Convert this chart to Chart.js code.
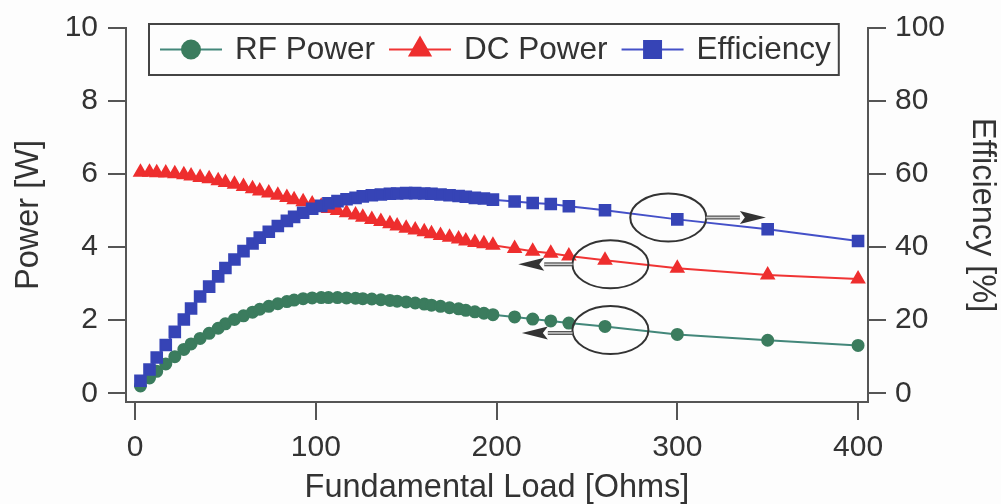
<!DOCTYPE html>
<html>
<head>
<meta charset="utf-8">
<title>Power and efficiency vs fundamental load</title>
<script src="https://cdn.jsdelivr.net/npm/chart.js@4"></script>
<style>
  html, body { margin: 0; padding: 0; background: #fdfdfd; }
  #wrap { width: 1001px; height: 504px; }
</style>
</head>
<body>
<div id="wrap"><canvas id="chartCanvas" width="1001" height="504"></canvas></div>
<script>
// load sweep [Ohms]: fine steps up to ~200, coarser after
const loadOhms = [3, 8, 12, 17, 22, 27, 31, 36, 41, 46, 50, 55, 60, 65, 69, 74, 79, 84, 88, 93,
    98, 103, 107, 112, 117, 122, 126, 131, 136, 141, 145, 150, 155, 160, 164, 169, 174, 179, 183, 188,
    193, 198, 210, 220, 230, 240, 260, 300, 350, 400];

// [W]
const rfPower = [0.2, 0.42, 0.6, 0.8, 1.0, 1.2, 1.35, 1.5, 1.64, 1.78, 1.9, 2.02, 2.12, 2.22, 2.3, 2.38, 2.45, 2.51, 2.55, 2.59,
    2.61, 2.62, 2.62, 2.62, 2.61, 2.6, 2.59, 2.58, 2.56, 2.54, 2.52, 2.5, 2.47, 2.44, 2.41, 2.38, 2.34, 2.31, 2.27, 2.23,
    2.19, 2.15, 2.09, 2.03, 1.98, 1.92, 1.83, 1.61, 1.45, 1.31];

const dcPower = [6.05, 6.05, 6.04, 6.03, 6.01, 5.98, 5.95, 5.91, 5.87, 5.82, 5.77, 5.72, 5.66, 5.6, 5.54, 5.48, 5.42, 5.36, 5.3, 5.24,
    5.18, 5.12, 5.06, 5.0, 4.94, 4.88, 4.82, 4.76, 4.7, 4.64, 4.58, 4.52, 4.47, 4.42, 4.37, 4.32, 4.27, 4.22, 4.17, 4.13,
    4.09, 4.05, 3.96, 3.89, 3.83, 3.76, 3.64, 3.42, 3.24, 3.13];

// [%]
const efficiency = [3.4, 6.5, 9.8, 13.2, 16.8, 20.2, 23.2, 26.5, 29.2, 32.0, 34.3, 36.6, 38.9, 41.0, 42.6, 44.2, 45.8, 47.2, 48.3, 49.4,
    50.5, 51.3, 52.0, 52.6, 53.1, 53.5, 53.9, 54.2, 54.4, 54.6, 54.7, 54.8, 54.8, 54.7, 54.6, 54.4, 54.2, 54.0, 53.8, 53.5,
    53.3, 53.0, 52.5, 52.1, 51.8, 51.2, 50.1, 47.6, 44.9, 41.7];

const xTicks = [0, 100, 200, 300, 400];
const powerTicks = [0, 2, 4, 6, 8, 10];
const effTicks = [0, 20, 40, 60, 80, 100];

// circled groups with an arrow pointing at the axis they belong to
const callouts = [
    { axis: "y1", x: 295, y: 48.1, arrowY: 48.1, from: 316, to: 349 },
    { axis: "y", x: 263, y: 3.53, arrowY: 3.53, from: 242, to: 212 },
    { axis: "y", x: 263, y: 1.73, arrowY: 1.65, from: 242, to: 214 }
];

const FONT = "'Liberation Sans', Arial, sans-serif";
const INK = "#333";
const AXIS = "#555";

const xy = vals => loadOhms.map((x, i) => ({ x: x, y: vals[i] }));

// axes run slightly past the round numbers, so set the labelled ticks by hand
const fixedTicks = list => scale => {
    scale.ticks = list.map(v => ({ value: v }));
};

const legendBox = {
    id: "legendBox",
    afterDraw(chart) {
        const ctx = chart.ctx;
        const area = chart.chartArea;
        const left = area.left + 23, top = area.top - 4, h = 51;
        const y = top + h / 2;
        const sizes = [9, 12, 12];
        let x = left + 11;
        ctx.save();
        ctx.font = "31.5px " + FONT;
        ctx.textBaseline = "middle";
        chart.data.datasets.forEach((ds, i) => {
            ctx.strokeStyle = ds.borderColor;
            ctx.lineWidth = 2;
            ctx.beginPath();
            ctx.moveTo(x, y);
            ctx.lineTo(x + 62, y);
            ctx.stroke();
            ctx.fillStyle = ds.pointBackgroundColor;
            ctx.strokeStyle = ds.pointBackgroundColor;
            Chart.helpers.drawPoint(ctx, { pointStyle: ds.pointStyle, radius: sizes[i], borderWidth: 1 }, x + 31, y);
            ctx.fillStyle = INK;
            ctx.fillText(ds.label, x + 75, y + 1);
            x += 75 + ctx.measureText(ds.label).width + 14;
        });
        ctx.strokeStyle = "#444";
        ctx.lineWidth = 2;
        ctx.strokeRect(left, top, x - 14 + 8 - left, h);
        ctx.restore();
    }
};

const calloutMarks = {
    id: "calloutMarks",
    afterDatasetsDraw(chart) {
        const ctx = chart.ctx;
        const xs = chart.scales.x;
        ctx.save();
        callouts.forEach(c => {
            const ys = chart.scales[c.axis];
            const cx = xs.getPixelForValue(c.x), cy = ys.getPixelForValue(c.y);
            ctx.strokeStyle = "#333";
            ctx.lineWidth = 2;
            ctx.beginPath();
            ctx.ellipse(cx, cy, 38, 24, 0, 0, Math.PI * 2);
            ctx.stroke();

            const ay = ys.getPixelForValue(c.arrowY);
            const x0 = xs.getPixelForValue(c.from), x1 = xs.getPixelForValue(c.to);
            const dir = Math.sign(x1 - x0);
            const base = x1 - dir * 26;
            ctx.lineCap = "butt";
            ctx.strokeStyle = "#555";
            ctx.lineWidth = 4;
            ctx.beginPath(); ctx.moveTo(x0, ay); ctx.lineTo(base, ay); ctx.stroke();
            ctx.strokeStyle = "#ccc";
            ctx.lineWidth = 1.5;
            ctx.beginPath(); ctx.moveTo(x0, ay); ctx.lineTo(base, ay); ctx.stroke();
            ctx.fillStyle = "#333";
            ctx.beginPath();
            ctx.moveTo(x1, ay);
            ctx.lineTo(base, ay - 6.5);
            ctx.lineTo(base + dir * 5, ay);
            ctx.lineTo(base, ay + 6.5);
            ctx.closePath();
            ctx.fill();
        });
        ctx.restore();
    }
};

const axisLine = { display: true, color: AXIS, width: 2 };
const axisGrid = { display: true, drawOnChartArea: false, drawTicks: true, tickLength: 18, color: AXIS, lineWidth: 2 };
const tickFont = { family: FONT, size: 30 };
const titleFont = { family: FONT, size: 32.5 };

new Chart(document.getElementById("chartCanvas"), {
    type: "line",
    data: {
        datasets: [{
            label: "RF Power",
            data: xy(rfPower),
            yAxisID: "y",
            borderColor: "#43877a",
            backgroundColor: "#3b7c5e",
            pointBackgroundColor: "#3b7c5e",
            pointBorderColor: "#3b7c5e",
            pointStyle: "circle",
            pointRadius: 5.5,
            borderWidth: 2,
            order: 2
        }, {
            label: "DC Power",
            data: xy(dcPower),
            yAxisID: "y",
            borderColor: "#f03434",
            backgroundColor: "#ee2e2e",
            pointBackgroundColor: "#ee2e2e",
            pointBorderColor: "#ee2e2e",
            pointStyle: "triangle",
            pointRadius: 7,
            borderWidth: 2,
            order: 1
        }, {
            label: "Efficiency",
            data: xy(efficiency),
            yAxisID: "y1",
            borderColor: "#4450c8",
            backgroundColor: "#3644b6",
            pointBackgroundColor: "#3644b6",
            pointBorderColor: "#3644b6",
            pointStyle: "rect",
            pointRadius: 7.5,
            borderWidth: 2,
            order: 0
        }]
    },
    options: {
        responsive: false,
        animation: false,
        events: [],
        layout: { padding: { top: 21 } },
        elements: { line: { tension: 0 }, point: { borderWidth: 1 } },
        plugins: { legend: { display: false }, tooltip: { enabled: false } },
        scales: {
            x: {
                type: "linear",
                min: -5,
                max: 405.5,
                border: axisLine,
                grid: axisGrid,
                ticks: { color: INK, font: tickFont, padding: 10, maxRotation: 0 },
                afterBuildTicks: fixedTicks(xTicks),
                afterFit: s => { s.height = 102; },
                title: { display: true, text: "Fundamental Load [Ohms]", color: INK, font: titleFont, padding: { top: 0, bottom: -4 } }
            },
            y: {
                position: "left",
                min: -0.24,
                max: 10,
                border: axisLine,
                grid: axisGrid,
                ticks: { color: INK, font: tickFont, padding: 10 },
                afterBuildTicks: fixedTicks(powerTicks),
                afterFit: s => { s.width = 126; },
                title: { display: true, text: "Power [W]", color: INK, font: titleFont, padding: { top: 10, bottom: 0 } }
            },
            y1: {
                position: "right",
                min: -2.4,
                max: 100,
                border: axisLine,
                grid: axisGrid,
                ticks: { color: INK, font: tickFont, padding: 9 },
                afterBuildTicks: fixedTicks(effTicks),
                afterFit: s => { s.width = 133; },
                title: { display: true, text: "Efficiency [%]", color: INK, font: titleFont, padding: { top: 0, bottom: 0 } }
            }
        }
    },
    plugins: [calloutMarks, legendBox]
});
</script>
</body>
</html>
